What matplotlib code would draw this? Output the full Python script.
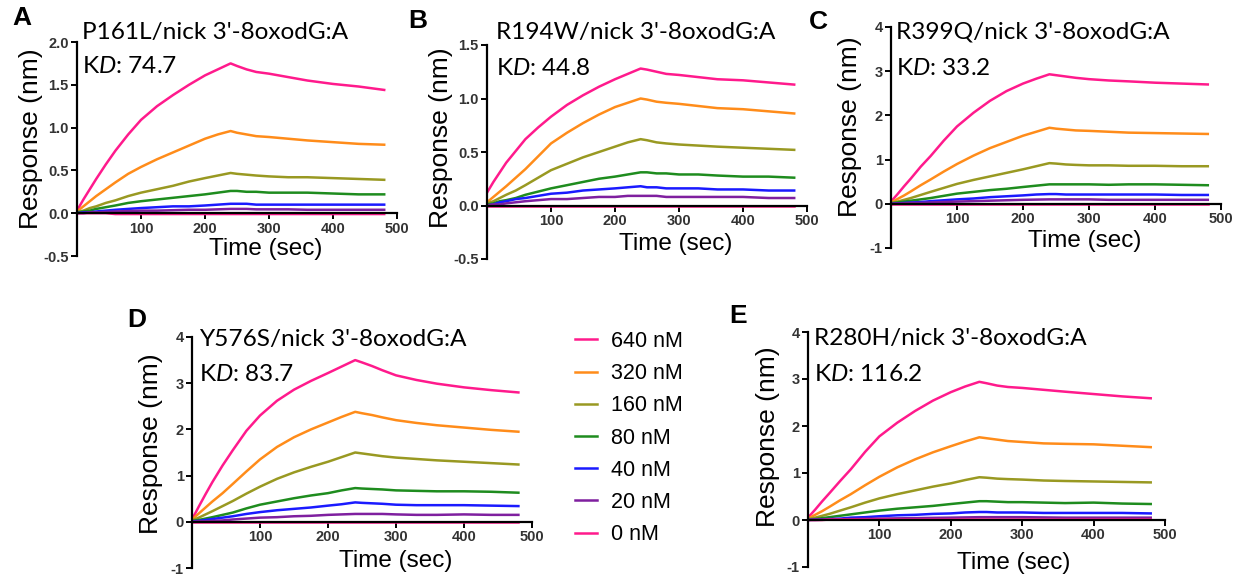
import numpy as np
import matplotlib
matplotlib.use("Agg")
import matplotlib.pyplot as plt

plt.rcParams['font.family'] = ['Liberation Sans', 'DejaVu Sans']
plt.rcParams['mathtext.fontset'] = 'custom'
plt.rcParams['mathtext.rm'] = 'Lato'
plt.rcParams['mathtext.it'] = 'Lato:italic'

# ---------------------------------------------------------------------
# datos (tiempo en s, respuesta en nm)
# ---------------------------------------------------------------------
t = [0, 10, 20, 30, 45, 60, 80, 100, 125, 150, 175, 200, 220, 240,
     250, 265, 280, 300, 330, 360, 400, 440, 480]
conc = ["640 nM", "320 nM", "160 nM", "80 nM", "40 nM", "20 nM", "0 nM"]
colores = ["#ff1a8c", "#ff8c1a", "#999922", "#1e8c1e", "#1a1aff", "#7f1f9f", "#ff1a8c"]

A_640 = [0.03, 0.16, 0.28, 0.40, 0.57, 0.73, 0.92, 1.09, 1.25, 1.38, 1.50, 1.61, 1.68, 1.75,
         1.72, 1.68, 1.65, 1.63, 1.59, 1.55, 1.51, 1.48, 1.44]
A_320 = [0.02, 0.08, 0.14, 0.20, 0.28, 0.36, 0.46, 0.54, 0.63, 0.71, 0.79, 0.87, 0.92, 0.96,
         0.94, 0.92, 0.90, 0.89, 0.87, 0.85, 0.83, 0.81, 0.80]
A_160 = [0.01, 0.03, 0.06, 0.08, 0.12, 0.15, 0.20, 0.24, 0.28, 0.32, 0.37, 0.41, 0.44, 0.47,
         0.46, 0.45, 0.44, 0.43, 0.42, 0.42, 0.41, 0.40, 0.39]
A_80 = [0.01, 0.02, 0.03, 0.05, 0.07, 0.09, 0.12, 0.14, 0.16, 0.18, 0.20, 0.22, 0.24, 0.26,
        0.26, 0.25, 0.25, 0.24, 0.24, 0.24, 0.23, 0.22, 0.22]
A_40 = [0.00, 0.01, 0.01, 0.02, 0.03, 0.04, 0.05, 0.06, 0.07, 0.08, 0.08, 0.09, 0.10, 0.11,
        0.11, 0.11, 0.10, 0.10, 0.10, 0.10, 0.10, 0.10, 0.10]
A_20 = [0.00, 0.00, 0.01, 0.01, 0.015, 0.02, 0.025, 0.03, 0.03, 0.035, 0.04, 0.04, 0.045, 0.05,
        0.05, 0.05, 0.045, 0.045, 0.045, 0.04, 0.04, 0.04, 0.04]
A_0 = [0.00, 0.00, 0.00, 0.00, 0.00, -0.01, -0.01, -0.01, -0.01, -0.01, -0.01, -0.01, -0.01, -0.01,
       -0.01, -0.01, -0.01, -0.01, -0.01, -0.01, -0.01, -0.01, -0.01]

B_640 = [0.12, 0.22, 0.31, 0.40, 0.51, 0.62, 0.73, 0.83, 0.94, 1.03, 1.11, 1.18, 1.23, 1.28,
         1.27, 1.25, 1.23, 1.22, 1.20, 1.18, 1.17, 1.15, 1.13]
B_320 = [0.03, 0.08, 0.13, 0.18, 0.26, 0.34, 0.46, 0.58, 0.68, 0.77, 0.85, 0.92, 0.96, 1.00,
         0.99, 0.97, 0.96, 0.95, 0.93, 0.91, 0.90, 0.88, 0.86]
B_160 = [0.02, 0.04, 0.07, 0.10, 0.14, 0.19, 0.26, 0.33, 0.39, 0.45, 0.50, 0.55, 0.59, 0.62,
         0.61, 0.59, 0.58, 0.57, 0.56, 0.55, 0.54, 0.53, 0.52]
B_80 = [0.01, 0.02, 0.04, 0.05, 0.07, 0.10, 0.13, 0.16, 0.19, 0.22, 0.25, 0.27, 0.29, 0.31,
        0.31, 0.30, 0.30, 0.29, 0.29, 0.28, 0.27, 0.27, 0.26]
B_40 = [0.00, 0.01, 0.03, 0.04, 0.06, 0.07, 0.09, 0.11, 0.12, 0.14, 0.15, 0.16, 0.17, 0.18,
        0.17, 0.17, 0.16, 0.16, 0.16, 0.15, 0.15, 0.14, 0.14]
B_20 = [0.00, 0.01, 0.01, 0.02, 0.03, 0.04, 0.05, 0.06, 0.06, 0.07, 0.08, 0.08, 0.09, 0.09,
        0.09, 0.09, 0.08, 0.08, 0.08, 0.08, 0.08, 0.07, 0.07]
B_0 = [0.00] * 23

C_640 = [0.05, 0.22, 0.40, 0.57, 0.84, 1.08, 1.43, 1.75, 2.06, 2.33, 2.55, 2.72, 2.83, 2.93,
         2.91, 2.88, 2.85, 2.82, 2.79, 2.77, 2.74, 2.72, 2.70]
C_320 = [0.03, 0.11, 0.19, 0.28, 0.42, 0.55, 0.73, 0.90, 1.09, 1.26, 1.40, 1.54, 1.63, 1.72,
         1.70, 1.68, 1.66, 1.65, 1.63, 1.61, 1.60, 1.59, 1.58]
C_160 = [0.02, 0.05, 0.09, 0.13, 0.20, 0.27, 0.36, 0.45, 0.54, 0.62, 0.70, 0.78, 0.85, 0.92,
         0.91, 0.89, 0.88, 0.87, 0.87, 0.86, 0.86, 0.85, 0.85]
C_80 = [0.01, 0.03, 0.05, 0.07, 0.10, 0.13, 0.18, 0.23, 0.27, 0.31, 0.34, 0.38, 0.41, 0.44,
        0.44, 0.44, 0.44, 0.44, 0.43, 0.44, 0.44, 0.43, 0.42]
C_40 = [0.00, 0.01, 0.02, 0.03, 0.04, 0.06, 0.08, 0.10, 0.12, 0.15, 0.17, 0.19, 0.21, 0.22,
        0.22, 0.21, 0.21, 0.21, 0.21, 0.21, 0.21, 0.20, 0.20]
C_20 = [0.00, 0.005, 0.01, 0.02, 0.02, 0.03, 0.04, 0.05, 0.06, 0.07, 0.08, 0.09, 0.095, 0.10,
        0.10, 0.10, 0.10, 0.10, 0.09, 0.09, 0.09, 0.09, 0.09]
C_0 = [0.00] * 23

D_640 = [0.05, 0.33, 0.60, 0.86, 1.22, 1.55, 1.97, 2.30, 2.62, 2.86, 3.05, 3.22, 3.36, 3.50,
         3.45, 3.37, 3.28, 3.17, 3.07, 2.99, 2.91, 2.85, 2.80]
D_320 = [0.05, 0.18, 0.31, 0.44, 0.62, 0.82, 1.09, 1.35, 1.62, 1.83, 2.00, 2.15, 2.27, 2.38,
         2.35, 2.31, 2.26, 2.20, 2.14, 2.09, 2.04, 1.99, 1.95]
D_160 = [0.03, 0.09, 0.16, 0.23, 0.34, 0.45, 0.61, 0.76, 0.93, 1.07, 1.19, 1.30, 1.40, 1.50,
         1.48, 1.45, 1.42, 1.39, 1.36, 1.33, 1.30, 1.27, 1.24]
D_80 = [0.02, 0.04, 0.07, 0.10, 0.15, 0.20, 0.29, 0.37, 0.44, 0.51, 0.57, 0.62, 0.68, 0.73,
        0.72, 0.71, 0.70, 0.68, 0.67, 0.66, 0.66, 0.65, 0.63]
D_40 = [0.01, 0.02, 0.04, 0.06, 0.09, 0.12, 0.17, 0.21, 0.25, 0.28, 0.31, 0.35, 0.38, 0.42,
        0.41, 0.40, 0.39, 0.37, 0.36, 0.36, 0.36, 0.35, 0.34]
D_20 = [0.00, 0.01, 0.01, 0.02, 0.03, 0.05, 0.07, 0.09, 0.10, 0.12, 0.13, 0.15, 0.16, 0.17,
        0.17, 0.17, 0.17, 0.16, 0.15, 0.15, 0.16, 0.15, 0.15]
D_0 = [0.00] * 23

E_640 = [0.05, 0.22, 0.40, 0.57, 0.83, 1.08, 1.45, 1.78, 2.07, 2.32, 2.54, 2.72, 2.84, 2.94,
         2.91, 2.86, 2.83, 2.81, 2.77, 2.73, 2.68, 2.63, 2.59]
E_320 = [0.03, 0.11, 0.19, 0.28, 0.42, 0.55, 0.74, 0.92, 1.12, 1.29, 1.44, 1.57, 1.67, 1.76,
         1.74, 1.71, 1.68, 1.66, 1.63, 1.62, 1.61, 1.58, 1.55]
E_160 = [0.02, 0.05, 0.09, 0.13, 0.20, 0.27, 0.37, 0.46, 0.55, 0.63, 0.71, 0.78, 0.85, 0.91,
         0.90, 0.88, 0.87, 0.86, 0.84, 0.83, 0.82, 0.81, 0.80]
E_80 = [0.01, 0.02, 0.04, 0.06, 0.09, 0.12, 0.16, 0.20, 0.24, 0.27, 0.30, 0.34, 0.37, 0.40,
        0.40, 0.39, 0.38, 0.38, 0.37, 0.36, 0.37, 0.35, 0.34]
E_40 = [0.00, 0.01, 0.01, 0.02, 0.03, 0.05, 0.06, 0.08, 0.10, 0.11, 0.13, 0.14, 0.16, 0.17,
        0.17, 0.16, 0.16, 0.16, 0.15, 0.15, 0.15, 0.15, 0.14]
E_20 = [0.00, 0.00, 0.005, 0.01, 0.015, 0.02, 0.025, 0.03, 0.035, 0.04, 0.045, 0.05, 0.055, 0.06,
        0.06, 0.06, 0.06, 0.06, 0.055, 0.05, 0.05, 0.05, 0.05]
E_0 = [0.00, 0.00, 0.00, 0.01, 0.01, 0.01, 0.01, 0.01, 0.01, 0.01, 0.01, 0.01, 0.01, 0.01,
       0.01, 0.01, 0.01, 0.01, 0.01, 0.01, 0.01, 0.01, 0.01]

titulos = ["P161L/nick 3'-8oxodG:A", "R194W/nick 3'-8oxodG:A", "R399Q/nick 3'-8oxodG:A",
           "Y576S/nick 3'-8oxodG:A", "R280H/nick 3'-8oxodG:A"]
kd = ["74.7", "44.8", "33.2", "83.7", "116.2"]
letras = ["A", "B", "C", "D", "E"]
curvas = [[A_640, A_320, A_160, A_80, A_40, A_20, A_0],
          [B_640, B_320, B_160, B_80, B_40, B_20, B_0],
          [C_640, C_320, C_160, C_80, C_40, C_20, C_0],
          [D_640, D_320, D_160, D_80, D_40, D_20, D_0],
          [E_640, E_320, E_160, E_80, E_40, E_20, E_0]]
ylims = [(-0.5, 2.0), (-0.5, 1.5), (-1, 4), (-1, 4), (-1, 4)]
yticks = [[-0.5, 0.0, 0.5, 1.0, 1.5, 2.0], [-0.5, 0.0, 0.5, 1.0, 1.5],
          [-1, 0, 1, 2, 3, 4], [-1, 0, 1, 2, 3, 4], [-1, 0, 1, 2, 3, 4]]
ytfmt = ["%.1f", "%.1f", "%d", "%d", "%d"]

# ---------------------------------------------------------------------
# figura: posiciones en pixeles
# ---------------------------------------------------------------------
W, H = 1245, 577
cajas = [(77, 397, 42, 256), (487, 807, 45, 259), (891, 1221, 27, 248),
         (192, 532, 337, 568), (808, 1165, 332, 567)]          # izq, der, arriba, abajo
pos_letra = [(22, 18), (418, 21), (818, 22), (137, 320), (738, 316)]
pos_tit = [(82, 39, 73), (496, 39, 75), (896, 38, 75), (199, 346, 381), (814, 345, 381)]
pos_ylab = [(43, 139), (453, 138), (862, 127), (163, 444), (780, 437)]   # borde der., centro
pos_xlab = [(266, 255), (676, 250), (1085, 247), (396, 567), (1014, 569)]  # centro, linea base

fig = plt.figure(figsize=(W / 100, H / 100), dpi=100)
lineas = []
for i in range(5):
    l, r, tp, bt = cajas[i]
    ax = fig.add_axes([l / W, 1 - bt / H, (r - l) / W, (bt - tp) / H])
    for j in range(7):
        ln, = ax.plot(t, curvas[i][j], color=colores[j], lw=1.8, label=conc[j])
        if i == 3: lineas.append(ln)
    ax.set_xlim(0, 500); ax.set_ylim(*ylims[i])
    ax.spines['top'].set_visible(False); ax.spines['right'].set_visible(False)
    ax.spines['bottom'].set_position(('data', 0))
    for s in ('left', 'bottom'):
        ax.spines[s].set_linewidth(1.6)
    ax.set_xticks([100, 200, 300, 400, 500])
    ax.set_yticks(yticks[i])
    ax.set_yticklabels([ytfmt[i] % v for v in yticks[i]])
    ax.tick_params(length=4, width=1.4, labelsize=10.5, labelcolor='#333333', pad=2)
    for lab in ax.get_xticklabels() + ax.get_yticklabels():
        lab.set_fontweight('bold')
    ax.set_xlabel("Time (sec)", fontsize=17.5, va='baseline')
    ax.set_ylabel("Response (nm)", fontsize=19)
    ax.yaxis.set_label_coords(pos_ylab[i][0] / W, 1 - pos_ylab[i][1] / H, transform=fig.transFigure)
    ax.xaxis.set_label_coords(pos_xlab[i][0] / W, 1 - pos_xlab[i][1] / H, transform=fig.transFigure)
    xl, yb, yk = pos_tit[i]
    fig.text(xl / W, 1 - yb / H, titulos[i], fontsize=17.6, family='Lato', va='baseline')
    fig.text(xl / W, 1 - yk / H, r"K$\mathit{D}$: " + kd[i], fontsize=17.6, family='Lato', va='baseline')
    lx, ly = pos_letra[i]
    fig.text(lx / W, 1 - ly / H, letras[i], fontsize=19, fontweight='bold', ha='center', va='center')

fig.legend(handles=lineas, labels=conc, loc='upper left', bbox_to_anchor=(575 / W, 1 - 331 / H),
           frameon=False, fontsize=15.5, handlelength=1.0, handletextpad=0.65,
           labelspacing=0.52, borderpad=0, borderaxespad=0)

plt.savefig("out.png", dpi=100)
